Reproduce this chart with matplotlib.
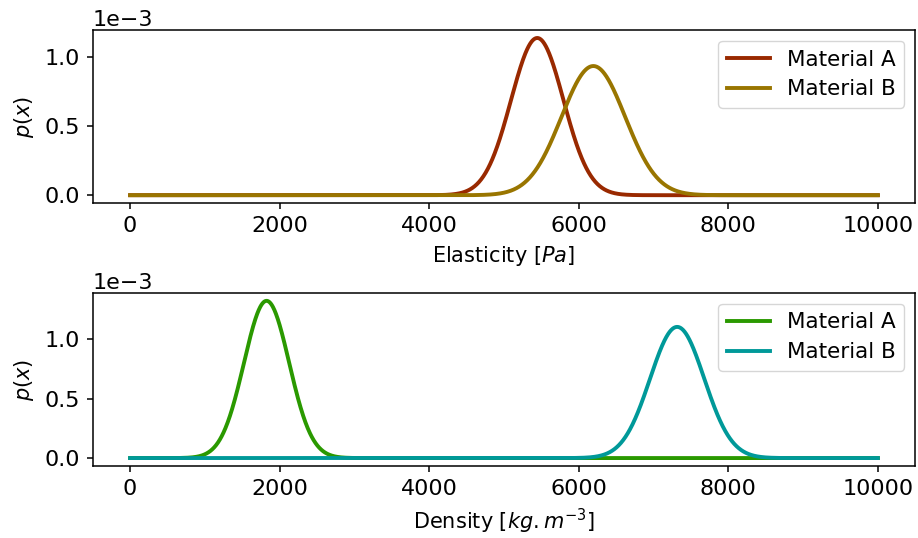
import numpy as np
import matplotlib
matplotlib.use("Agg")
import matplotlib.pyplot as plt

# Normal distribution parameters
materials = ["Material A", "Material B"]
elasticity_means = [5445, 6195]
elasticity_stds = [350, 426]
density_means = [1825, 7316]
density_stds = [302, 362]
x_range = [0, 10000]
elasticity_colors = ["#992900", "#997500"]
density_colors = ["#2a9900", "#009999"]

x = np.linspace(x_range[0], x_range[1], 2001)

def pdf(x, mu, s):
    return np.exp(-0.5 * ((x - mu) / s) ** 2) / (s * np.sqrt(2 * np.pi))

fig, axes = plt.subplots(2, 1, figsize=(9.18, 5.38), dpi=100)
fig.subplots_adjust(left=0.101, right=0.997, top=0.944, bottom=0.134, hspace=0.52)

panels = [
    (axes[0], elasticity_means, elasticity_stds, elasticity_colors, r"Elasticity $[Pa]$"),
    (axes[1], density_means, density_stds, density_colors, r"Density $[kg.m^{-3}]$"),
]
for ax, means, stds, colors, xlabel in panels:
    for name, mu, s, c in zip(materials, means, stds, colors):
        ax.plot(x, pdf(x, mu, s), color=c, lw=2.8, label=name)
    ax.set_xlabel(xlabel, fontsize=15, labelpad=5.5)
    ax.set_ylabel(r"$p(x)$", fontsize=15, labelpad=5.5)
    ax.ticklabel_format(axis="y", style="sci", scilimits=(0, 0))
    ax.yaxis.get_offset_text().set_fontsize(16)
    ax.tick_params(labelsize=16, length=4.5, width=1.1, pad=5)
    for sp in ax.spines.values():
        sp.set_linewidth(1.1)
    ax.legend(fontsize=15.5, loc="upper right", labelspacing=0.45)

fig.savefig("out.png", dpi=100)
